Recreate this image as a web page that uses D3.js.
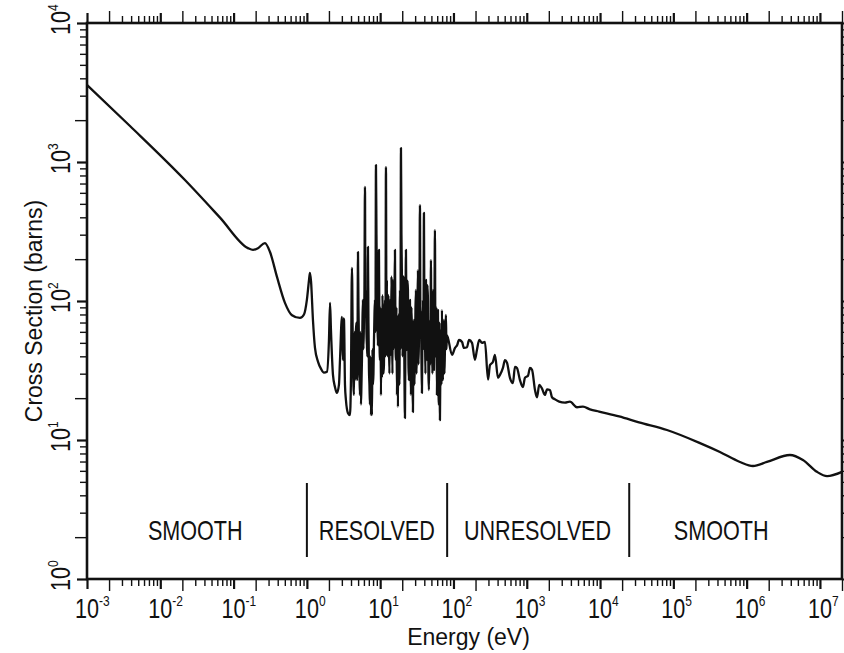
<!DOCTYPE html>
<html>
<head>
<meta charset="utf-8">
<script src="https://cdn.jsdelivr.net/npm/d3@7"></script>
<style>
  body { margin: 0; background: #fff; }
  svg { display: block; }
  .tick-label, .region-label, .axis-title { font-family: "Liberation Sans", Arial, sans-serif; fill: #111; }
</style>
</head>
<body>
<svg width="844" height="653"></svg>
<script>
// cross section (barns) against energy (eV)
var thermalPts = [
  [0.001, 3580], [0.00386, 1815], [0.0217, 742], [0.0653, 398], [0.157, 240], [0.184, 233],
  [0.215, 240], [0.268, 261], [0.314, 225], [0.391, 149], [0.502, 97],
  [0.627, 79], [0.805, 75.5], [0.913, 80]
];

var resolvedPts = [
  [1.00, 102], [1.07, 142], [1.10, 159], [1.14, 138], [1.21, 73], [1.29, 46],
  [1.42, 36.5], [1.56, 32.5], [1.71, 30.5], [1.88, 31], [2.00, 52], [2.07, 97],
  [2.13, 62], [2.27, 29.4], [2.42, 24], [2.57, 21.8], [2.74, 25], [2.83, 37.6],
  [3.01, 77], [3.06, 50], [3.11, 37.6], [3.16, 75], [3.21, 73], [3.31, 25], [3.41, 19.4], [3.64, 15.6],
  [3.87, 15.1], [3.99, 27], [4.12, 173], [4.25, 37.6], [4.39, 21.1], [4.46, 60], [4.53, 27], [4.60, 35],
  [4.67, 62], [4.75, 70], [4.82, 27], [4.90, 40], [4.98, 225], [5.06, 90], [5.13, 52], [5.22, 30],
  [5.30, 21], [5.38, 60], [5.47, 18], [5.55, 25], [5.64, 37.6], [5.73, 70], [5.82, 102], [5.91, 45],
  [6.01, 73], [6.10, 120], [6.20, 661], [6.30, 80], [6.40, 120], [6.50, 60], [6.60, 48], [6.70, 40],
  [6.81, 245], [6.92, 70], [7.03, 32], [7.14, 25], [7.25, 18], [7.37, 40], [7.49, 15.1], [7.60, 22],
  [7.72, 15.1], [7.85, 45], [7.97, 25], [8.10, 30], [8.23, 52], [8.36, 80], [8.49, 102], [8.62, 60],
  [8.76, 951], [8.90, 300], [9.04, 120], [9.18, 70], [9.33, 48], [9.48, 160], [9.62, 233], [9.77, 60],
  [9.93, 37.6], [10.09, 90], [10.25, 21], [10.41, 70], [10.57, 28], [10.74, 110], [10.91, 62], [11.08, 30],
  [11.26, 34.6], [11.44, 80], [11.62, 102], [11.80, 40], [11.99, 920], [12.18, 70], [12.37, 142], [12.57, 40],
  [12.77, 62], [12.97, 110], [13.17, 48], [13.38, 30], [13.59, 102], [13.81, 60], [14.03, 41], [14.25, 150],
  [14.48, 73], [14.71, 30], [14.94, 142], [15.18, 45], [15.41, 62], [15.66, 95], [15.91, 233], [16.16, 55],
  [16.41, 37.6], [16.67, 90], [16.94, 21], [17.21, 55], [17.48, 17.3], [17.76, 80], [18.04, 37.6], [18.32, 25],
  [18.61, 120], [18.91, 45], [19.21, 1260], [19.51, 300], [19.82, 142], [20.13, 40], [20.45, 52], [20.77, 150],
  [21.10, 102], [21.43, 30], [21.78, 14.4], [22.12, 60], [22.47, 233], [22.83, 70], [23.19, 44.4], [23.56, 140],
  [23.93, 120], [24.31, 35], [24.69, 27], [25.08, 65], [25.48, 102], [25.88, 40], [26.29, 21.1], [26.71, 90],
  [27.13, 61.8], [27.56, 30], [28.00, 15.9], [28.44, 55], [28.89, 73], [29.35, 25], [29.81, 37.6], [30.28, 85],
  [30.76, 120], [31.25, 30], [31.74, 44.4], [32.24, 80], [32.76, 167], [33.28, 35], [33.80, 52.4], [34.34, 100],
  [34.88, 490], [35.43, 60], [35.99, 86], [36.56, 40], [37.14, 21.8], [37.73, 60], [38.33, 102], [38.93, 45],
  [39.55, 430], [40.18, 70], [40.81, 61.8], [41.46, 30], [42.11, 142], [42.78, 55], [43.46, 37.6], [44.15, 130],
  [44.84, 102], [45.55, 30], [46.27, 22.9], [47.0, 50], [47.75, 73], [48.5, 35], [49.27, 197], [50.05, 40],
  [50.85, 52.4], [51.65, 30], [52.47, 120], [53.3, 60], [54.14, 31.9], [55.0, 80], [55.87, 324], [56.75, 40],
  [57.65, 52.4], [58.56, 90], [59.49, 21.1], [60.43, 55], [61.39, 86], [62.36, 25], [63.35, 17.9], [64.35, 70],
  [65.37, 13.9], [66.4, 40], [67.46, 61.8], [68.53, 25], [69.61, 86], [70.71, 40], [71.83, 27], [72.97, 50],
  [74.12, 73], [75.29, 30], [76.49, 44.4], [77.7, 60], [78.93, 79.3], [80.18, 45], [81.45, 56.9]
];

var unresolvedPts = [
  [95.5, 41], [105, 46], [112, 48], [119, 52.4], [131, 50.7], [139, 46], [153, 46.5],
  [163, 52.4], [179, 50], [196, 37.8], [209, 44.4], [225, 52.5], [245, 50], [269, 50.7],
  [296, 27.2], [315, 34.6], [346, 36.5], [368, 40.9], [405, 28], [431, 29.4], [473, 33],
  [504, 37.6], [537, 36], [590, 28], [648, 25.7], [690, 33.6], [735, 33], [807, 27],
  [887, 24], [944, 28], [1040, 29], [1107, 33], [1180, 32], [1295, 22.9], [1380, 20.3],
  [1480, 24.9], [1610, 23.5], [1770, 21.1], [1890, 23.1], [2070, 22.9], [2210, 20.3],
  [2430, 19.6], [2770, 18.9], [3320, 18.6], [3880, 18.9], [4840, 17.2], [5850, 17.4],
  [7280, 16.6], [9720, 16.0]
];

var fastPts = [
  [18200, 14.8], [34000, 13.4], [81800, 11.8], [231000, 9.5], [432000, 8.2],
  [811000, 6.95], [1.22e6, 6.5], [1.89e6, 6.95], [3.9e6, 7.8], [5.86e6, 7.18],
  [9.1e6, 5.9], [1.25e7, 5.5], [2.0e7, 5.9]
];

// region boundaries (eV) and where each name sits
var regionBounds = [1, 82, 25000];
var regionNames = ['SMOOTH', 'RESOLVED', 'UNRESOLVED', 'SMOOTH'];
var regionLabelE = [0.03, 9, 1400, 4.5e5];

var xDecades = [-3, -2, -1, 0, 1, 2, 3, 4, 5, 6, 7];
var yDecades = [0, 1, 2, 3, 4];

var svg = d3.select('svg');
var plotL = 87, plotR = 842, plotT = 23, plotB = 579;
var narrow = 0.8; // squeeze for the plotter lettering

var x = d3.scaleLog().domain([1e-3, 2e7]).range([plotL, plotR]);
var y = d3.scaleLog().domain([1, 1e4]).range([plotB, plotT]);

// 1..9 x 10^n inside a domain
function logTicks(scale) {
  var d = scale.domain(), out = [];
  for (var e = Math.floor(Math.log10(d[0])); e <= Math.ceil(Math.log10(d[1])); e++) {
    for (var m = 1; m < 10; m++) {
      var v = m * Math.pow(10, e);
      if (v >= d[0] * 0.999 && v <= d[1] * 1.001) out.push(v);
    }
  }
  return out;
}
function mant(v) { return Math.round(v / Math.pow(10, Math.floor(Math.log10(v) + 1e-9))); }
function tickLen(v) { var m = mant(v); return m == 1 ? 10 : (m == 2 ? 12 : 7); }

function styleTicks(g, dir) {
  g.select('.domain').remove();
  g.selectAll('.tick line')
    .attr('stroke', '#111')
    .attr('stroke-width', function(d) { return mant(d) == 1 ? 2.2 : 1.4; })
    .each(function(d) {
      var l = d3.select(this);
      if (dir == 'x') l.attr('y2', +l.attr('y2') > 0 ? tickLen(d) : -tickLen(d));
      else l.attr('x2', +l.attr('x2') > 0 ? tickLen(d) : -tickLen(d));
    });
}

svg.append('g').attr('transform', 'translate(0,' + plotB + ')')
  .call(d3.axisBottom(x).tickValues(logTicks(x)).tickFormat('').tickSizeOuter(0))
  .call(styleTicks, 'x');
svg.append('g').attr('transform', 'translate(0,' + plotT + ')')
  .call(d3.axisTop(x).tickValues(logTicks(x)).tickFormat('').tickSizeOuter(0))
  .call(styleTicks, 'x');
svg.append('g').attr('transform', 'translate(' + plotL + ',0)')
  .call(d3.axisLeft(y).tickValues(logTicks(y)).tickFormat('').tickSizeOuter(0))
  .call(styleTicks, 'y');
svg.append('g').attr('transform', 'translate(' + plotR + ',0)')
  .call(d3.axisRight(y).tickValues(logTicks(y)).tickFormat('').tickSizeOuter(0))
  .call(styleTicks, 'y');

// frame
svg.append('rect')
  .attr('x', plotL).attr('y', plotT)
  .attr('width', plotR - plotL).attr('height', plotB - plotT)
  .attr('fill', 'none').attr('stroke', '#111').attr('stroke-width', 2.6);

// x tick labels: 10^n
var xl = svg.append('g').selectAll('g').data(xDecades).enter().append('g')
  .attr('transform', function(d) { return 'translate(' + x(Math.pow(10, d)) + ',618) scale(' + narrow + ',1)'; });
xl.append('text').attr('class', 'tick-label').attr('text-anchor', 'middle')
  .attr('font-size', 27).text('10');
xl.append('text').attr('class', 'tick-label').attr('x', 15).attr('y', -12)
  .attr('font-size', 15).text(function(d) { return d; });

// y tick labels, turned
var yl = svg.append('g').selectAll('g').data(yDecades).enter().append('g')
  .attr('transform', function(d) { return 'translate(70,' + y(Math.pow(10, d)) + ') rotate(-90) scale(' + narrow + ',1)'; });
yl.append('text').attr('class', 'tick-label').attr('text-anchor', 'middle')
  .attr('font-size', 27).text('10');
yl.append('text').attr('class', 'tick-label').attr('x', 15).attr('y', -12)
  .attr('font-size', 15).text(function(d) { return d; });

// axis titles
svg.append('text').attr('class', 'axis-title')
  .attr('x', (plotL + plotR) / 2 + 4).attr('y', 645)
  .attr('text-anchor', 'middle').attr('font-size', 23)
  .text('Energy (eV)');
svg.append('text').attr('class', 'axis-title')
  .attr('transform', 'translate(42,' + ((plotT + plotB) / 2 + 10) + ') rotate(-90)')
  .attr('text-anchor', 'middle').attr('font-size', 23)
  .text('Cross Section (barns)');

// region dividers and names
svg.append('g').selectAll('line').data(regionBounds).enter().append('line')
  .attr('x1', function(d) { return x(d); }).attr('x2', function(d) { return x(d); })
  .attr('y1', 483).attr('y2', 557)
  .attr('stroke', '#111').attr('stroke-width', 2);
svg.append('g').selectAll('text').data(regionNames).enter().append('text')
  .attr('class', 'region-label')
  .attr('transform', function(d, i) { return 'translate(' + x(regionLabelE[i]) + ',540) scale(' + narrow + ',1)'; })
  .attr('text-anchor', 'middle').attr('font-size', 27)
  .text(function(d) { return d; });

// the curve
var curve = thermalPts.concat(resolvedPts, unresolvedPts, fastPts);
var line = d3.line()
  .x(function(d) { return x(d[0]); })
  .y(function(d) { return y(d[1]); })
  .curve(d3.curveMonotoneX);
svg.append('path').datum(curve)
  .attr('d', line)
  .attr('fill', 'none').attr('stroke', '#111')
  .attr('stroke-width', 2.3).attr('stroke-linejoin', 'round');
</script>
</body>
</html>
